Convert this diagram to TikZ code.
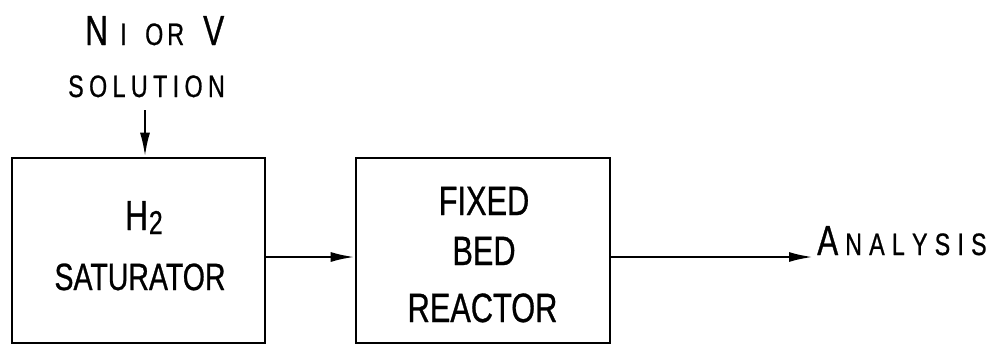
\documentclass[tikz,border=0pt]{standalone}
\usepackage{fontspec}
\setmainfont[FakeStretch=0.75,FakeBold=0.7]{Liberation Sans}
\usetikzlibrary{arrows.meta}
\makeatletter
\newcommand\lsp[2]{\def\lsp@k{#1}\@tfor\lsp@c:=#2\do{\lsp@c\kern\lsp@k}}
\makeatother
\newcommand\bigf{\fontsize{42}{42}\selectfont}
\newcommand\boxf{\fontsize{41}{41}\selectfont}
\newcommand\smf{\fontsize{31}{31}\selectfont}
\begin{document}
\begin{tikzpicture}[x=1pt,y=-1pt,
  blk/.style={draw,line width=2.6pt,inner sep=0pt,minimum width=253pt,minimum height=185pt},
  lbl/.style={inner sep=0pt,anchor=base},
  lblw/.style={inner sep=0pt,anchor=base west},
  arr/.style={line width=2.4pt,-{Latex[length=24pt,width=10pt]}}]
\useasboundingbox (0,0) rectangle (990,346);
% boxes
\node[blk] (sat) at (138.5,250.5) {};
\node[blk,minimum width=254pt] (fbr) at (483,250.5) {};
% box texts
\node[lblw] (h) at (125,230) {\bigf H\kern1pt\raisebox{-4pt}{\fontsize{33}{33}\selectfont 2}};
\node[lbl] (satl) at (140,290) {\fontsize{38}{38}\selectfont SATURATOR};
\node[lbl] (fix) at (484,215) {\boxf FIXED};
\node[lbl] (bed) at (484,265) {\boxf BED};
\node[lbl] (rea) at (482.5,322) {\boxf REACTOR};
% input label
\node[lblw] (n1) at (85,45) {\bigf N};
\node[lblw] (n2) at (120,45) {\smf I};
\node[lblw] (n3) at (145,45) {\smf O\kern4pt R};
\node[lblw] (n4) at (203,45) {\bigf V};
\node[lblw] (sol) at (68,97) {\smf\lsp{5.4pt}{SOLUTION}};
% output label
\node[lblw] (an) at (817,255) {\bigf A\kern7pt\smf\lsp{7.2pt}{NALYSIS}};
% connectors
\coordinate (in1) at (145,110);
\coordinate (out) at (813,257);
\draw[arr] (in1) -- (in1 |- sat.north);
\draw[arr] ([yshift=-6.5pt]sat.east) -- ([yshift=-6.5pt]fbr.west);
\draw[arr] ([yshift=-6.5pt]fbr.east) -- (out);
\end{tikzpicture}
\end{document}
